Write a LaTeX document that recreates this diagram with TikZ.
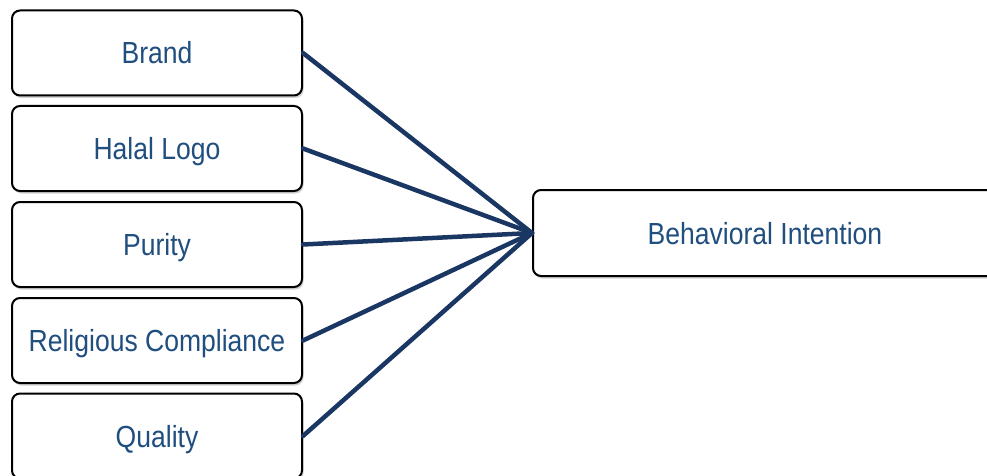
\documentclass[tikz,border=0pt]{standalone}
\usepackage{fontspec}
\setmainfont{Liberation Sans}[FakeStretch=0.87]
\usetikzlibrary{shadows}
\definecolor{labelblue}{HTML}{1F4E7F}
\definecolor{linknavy}{HTML}{1A3663}
\tikzset{
  factor/.style={draw=black, line width=2pt, rounded corners=8pt, fill=white,
    minimum width=290pt, minimum height=85pt, inner sep=0pt,
    text height=22pt, text depth=0pt,
    text=labelblue, font=\fontsize{30.5}{36}\selectfont,
    drop shadow={shadow xshift=1.5pt, shadow yshift=-2.5pt, opacity=0.35}},
  outcome/.style={factor, minimum width=464pt, minimum height=86pt},
  link/.style={draw=linknavy, line width=4.5pt, line cap=round}
}
\begin{document}
\begin{tikzpicture}[x=1pt, y=-1pt]
  \useasboundingbox (0,0) rectangle (987,476);
  \clip (0,0) rectangle (987,476);
  \fill[white] (0,0) rectangle (987,476);

  % predictor boxes
  \node[factor] (brand)   at (157,53)    {Brand};
  \node[factor] (halal)   at (157,148.5) {Halal Logo};
  \node[factor] (purity)  at (157,244.5) {Purity};
  \node[factor] (relig)   at (157,340.5) {Religious Compliance};
  \node[factor] (quality) at (157,436)   {Quality};

  % outcome box
  \node[outcome] (intent) at (765,233) {Behavioral Intention};

  % paths into the outcome
  \foreach \src in {brand,halal,purity,relig,quality}
    \draw[link] (\src.east) -- (intent.west);
\end{tikzpicture}
\end{document}
